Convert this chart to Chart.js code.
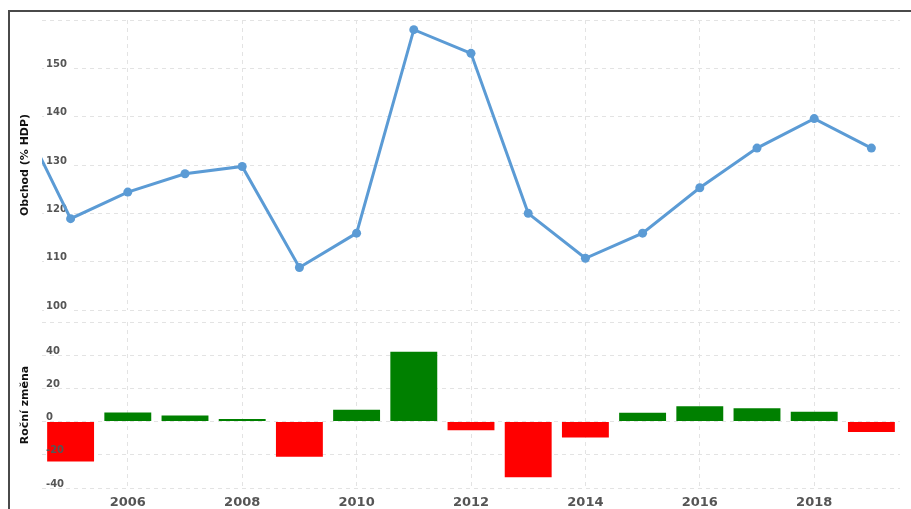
<!DOCTYPE html>
<html>
<head>
<meta charset="utf-8">
<script src="https://cdn.jsdelivr.net/npm/chart.js@4"></script>
<style>
    html, body { margin: 0; padding: 0; background: #fff; }
    body { width: 911px; height: 509px; position: relative; overflow: hidden; }
    .frame {
        position: absolute; left: 8px; top: 10px; right: -4px; bottom: -4px;
        border-left: 2px solid #4a4a4a; border-top: 2px solid #4a4a4a;
    }
    canvas { position: absolute; left: 0; }
    #trade-chart { top: 0; }
    #change-chart { top: 312px; }
</style>
</head>
<body>
<div class="frame"></div>
<canvas id="trade-chart" width="911" height="320"></canvas>
<canvas id="change-chart" width="911" height="197"></canvas>
<script>
// Obchod (% HDP) - 2004 is only there so the line runs in from the left edge
const tradeYears = [2004, 2005, 2006, 2007, 2008, 2009, 2010, 2011, 2012, 2013, 2014, 2015, 2016, 2017, 2018, 2019];
const tradeValues = [143, 118.9, 124.4, 128.2, 129.7, 108.8, 115.9, 158.0, 153.1, 120.0, 110.7, 115.9, 125.3, 133.5, 139.6, 133.5];

// Roční změna
const changeYears = [2005, 2006, 2007, 2008, 2009, 2010, 2011, 2012, 2013, 2014, 2015, 2016, 2017, 2018, 2019];
const changeValues = [-24, 5.5, 3.7, 1.5, -21.2, 7.1, 42.1, -5.2, -33.5, -9.6, 5.3, 9.2, 8.1, 6.0, -6.3];

const xMin = 2004.5;
const xMax = 2019.5;

const GRID = '#e3e3e3';
const LINE_BLUE = '#5b9bd5';
const FONT = 'DejaVu Sans, Verdana, sans-serif';

function xAxis(showLabels, height) {
    return {
        type: 'linear',
        min: xMin,
        max: xMax,
        offset: false,
        afterFit: s => { s.height = height; },
        border: { display: false, dash: [4, 4] },
        grid: { color: GRID, drawTicks: false, offset: false },
        ticks: {
            display: showLabels,
            stepSize: 2,
            includeBounds: false,
            padding: 7,
            maxRotation: 0,
            color: '#555',
            font: { family: FONT, size: 13, weight: 'bold' },
            callback: v => String(v)
        }
    };
}

function yAxis(title, min, max, step, hidden, labelsOnTop) {
    return {
        min: min,
        max: max,
        afterFit: s => { s.width = 42; },
        border: { display: false, dash: [4, 4] },
        grid: { color: GRID, drawTicks: false },
        title: {
            display: true,
            text: title,
            color: '#111',
            padding: { top: 19, bottom: 0 },
            font: { family: FONT, size: 11, weight: 'bold' }
        },
        ticks: {
            z: labelsOnTop ? 1 : 0,
            stepSize: step,
            mirror: true,
            padding: 4,
            labelOffset: -4,
            showLabelBackdrop: !labelsOnTop,
            // no white box behind the unlabelled top line
            backdropColor: c => (c.tick && c.tick.value === hidden ? 'rgba(0,0,0,0)' : '#fff'),
            backdropPadding: { left: 2, right: 3, top: 0, bottom: 0 },
            color: '#555',
            font: { family: FONT, size: 10, weight: 'bold' },
            callback: v => (v === hidden ? '' : String(v))
        }
    };
}

function baseOptions(padding, xs, ys) {
    return {
        responsive: false,
        maintainAspectRatio: false,
        devicePixelRatio: 1,
        animation: false,
        layout: { padding: padding },
        plugins: { legend: { display: false }, tooltip: { enabled: false } },
        scales: { x: xs, y: ys }
    };
}

function renderTrade() {
    const ctx = document.getElementById('trade-chart');
    const points = tradeYears.map((yr, i) => ({ x: yr, y: tradeValues[i] }));

    new Chart(ctx, {
        type: 'line',
        data: {
            datasets: [{
                data: points,
                borderColor: LINE_BLUE,
                backgroundColor: LINE_BLUE,
                borderWidth: 3,
                pointRadius: 4.5,
                pointBorderWidth: 0,
                tension: 0,
                clip: 0
            }]
        },
        options: baseOptions({ top: 20, right: 11, left: 0, bottom: 0 },
            xAxis(false, 8),
            yAxis('Obchod (% HDP)', 100, 160, 10, 160, false))
    });
}

function renderChange() {
    const ctx = document.getElementById('change-chart');
    const bars = changeYears.map((yr, i) => ({ x: yr, y: changeValues[i] }));
    const colors = changeValues.map(v => (v >= 0 ? '#008000' : '#ff0000'));

    new Chart(ctx, {
        type: 'bar',
        data: {
            datasets: [{
                data: bars,
                backgroundColor: colors,
                borderWidth: 0,
                categoryPercentage: 1,
                barPercentage: 0.82
            }]
        },
        options: baseOptions({ top: 9, right: 11, left: 0, bottom: 0 },
            xAxis(true, 21),
            yAxis('Roční změna', -40, 60, 20, 60, true))
    });
}

renderTrade();
renderChange();
</script>
</body>
</html>
